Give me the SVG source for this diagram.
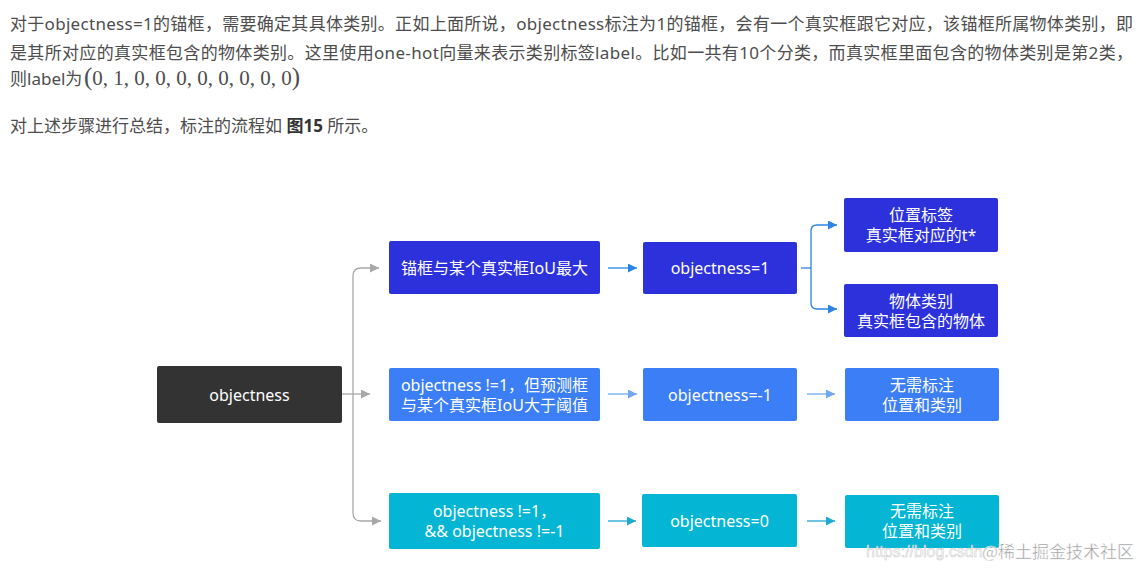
<svg xmlns="http://www.w3.org/2000/svg" width="1148" height="568" viewBox="0 0 1148 568">
<style>
.para{font-family:"Noto Sans","Noto Sans CJK SC",sans-serif;font-size:17px;fill:#4d4d4d}
.math{font-family:"Liberation Serif","DejaVu Serif",serif;font-size:21px;fill:#4d4d4d}
.bt{font-family:"Noto Sans","Noto Sans CJK SC",sans-serif;font-size:16px;fill:#ffffff;text-anchor:middle;dominant-baseline:central}
.dark{fill:#333333}
.r1{fill:#2c31dc}
.r2{fill:#3b7ef6}
.r3{fill:#04b6d4}
.gray{fill:none;stroke:#a8a8a8;stroke-width:1.3}
.c1{fill:none;stroke:#2a84e6;stroke-width:1.3}
.c2{fill:none;stroke:#6ea9ef;stroke-width:1.3}
.c3{fill:none;stroke:#1ea8d2;stroke-width:1.3}
</style>
<defs>
<marker id="mg" viewBox="0 0 10 10" refX="10" refY="5" markerWidth="9" markerHeight="9" markerUnits="userSpaceOnUse" orient="auto"><path d="M0,0 L10,5 L0,10 z" fill="#a8a8a8"/></marker>
<marker id="m1" viewBox="0 0 10 10" refX="10" refY="5" markerWidth="9" markerHeight="9" markerUnits="userSpaceOnUse" orient="auto"><path d="M0,0 L10,5 L0,10 z" fill="#2a84e6"/></marker>
<marker id="m2" viewBox="0 0 10 10" refX="10" refY="5" markerWidth="9" markerHeight="9" markerUnits="userSpaceOnUse" orient="auto"><path d="M0,0 L10,5 L0,10 z" fill="#6ea9ef"/></marker>
<marker id="m3" viewBox="0 0 10 10" refX="10" refY="5" markerWidth="9" markerHeight="9" markerUnits="userSpaceOnUse" orient="auto"><path d="M0,0 L10,5 L0,10 z" fill="#1ea8d2"/></marker>
</defs>
<rect x="0" y="0" width="1148" height="568" fill="#ffffff"/>
<g id="paragraph">
<text class="para" x="10" y="30" textLength="1123">对于objectness=1的锚框，需要确定其具体类别。正如上面所说，objectness标注为1的锚框，会有一个真实框跟它对应，该锚框所属物体类别，即</text>
<text class="para" x="10" y="59" textLength="1123">是其所对应的真实框包含的物体类别。这里使用one-hot向量来表示类别标签label。比如一共有10个分类，而真实框里面包含的物体类别是第2类，</text>
<text class="para" x="10" y="85">则label为</text>
<text class="math" x="84" y="85"><tspan font-size="25">(</tspan>0, 1, 0, 0, 0, 0, 0, 0, 0, 0<tspan font-size="25">)</tspan></text>
<text class="para" x="10" y="132">对上述步骤进行总结，标注的流程如 <tspan font-weight="bold" fill="#333">图15</tspan> 所示。</text>
</g>
<g id="connectors">
<path class="gray" d="M342,394 H370" marker-end="url(#mg)"/>
<path class="gray" d="M353,394 V276 Q353,268 361,268 H379" marker-end="url(#mg)"/>
<path class="gray" d="M353,394 V513 Q353,521 361,521 H381" marker-end="url(#mg)"/>
<path class="c1" d="M608,268 H637" marker-end="url(#m1)"/>
<path class="c1" d="M801,268 H811"/>
<path class="c1" d="M811,268 V231 Q811,225 817,225 H837" marker-end="url(#m1)"/>
<path class="c1" d="M811,268 V303 Q811,309 817,309 H837" marker-end="url(#m1)"/>
<path class="c2" d="M608,394 H637" marker-end="url(#m2)"/>
<path class="c2" d="M807,394 H835" marker-end="url(#m2)"/>
<path class="c3" d="M608,521 H636" marker-end="url(#m3)"/>
<path class="c3" d="M807,521 H835" marker-end="url(#m3)"/>
</g>
<g id="n-objectness">
<rect class="dark" x="157" y="366" width="185" height="57" rx="2"/>
<text class="bt" x="249.5" y="394.5">objectness</text>
</g>
<g id="n-iou-max">
<rect class="r1" x="389" y="241" width="211" height="53" rx="2"/>
<text class="bt" x="494.5" y="267.5">锚框与某个真实框IoU最大</text>
</g>
<g id="n-obj1">
<rect class="r1" x="643" y="242" width="154" height="52" rx="2"/>
<text class="bt" x="720" y="268">objectness=1</text>
</g>
<g id="n-pos-label">
<rect class="r1" x="844" y="198" width="154" height="54" rx="2"/>
<text class="bt" x="921" y="215">位置标签</text>
<text class="bt" x="921" y="235">真实框对应的t*</text>
</g>
<g id="n-class-label">
<rect class="r1" x="844" y="284" width="154" height="53" rx="2"/>
<text class="bt" x="921" y="300.5">物体类别</text>
<text class="bt" x="921" y="320.5">真实框包含的物体</text>
</g>
<g id="n-iou-thresh">
<rect class="r2" x="389" y="368" width="211" height="53" rx="2"/>
<text class="bt" x="494.5" y="385">objectness !=1，但预测框</text>
<text class="bt" x="494.5" y="405">与某个真实框IoU大于阈值</text>
</g>
<g id="n-obj-neg1">
<rect class="r2" x="643" y="368" width="154" height="53" rx="2"/>
<text class="bt" x="720" y="394.5">objectness=-1</text>
</g>
<g id="n-none-1">
<rect class="r2" x="845" y="368" width="154" height="53" rx="2"/>
<text class="bt" x="922" y="384.5">无需标注</text>
<text class="bt" x="922" y="404.5">位置和类别</text>
</g>
<g id="n-other">
<rect class="r3" x="389" y="493" width="211" height="56" rx="2"/>
<text class="bt" x="494.5" y="510.5">objectness !=1，</text>
<text class="bt" x="494.5" y="530.5">&amp;&amp; objectness !=-1</text>
</g>
<g id="n-obj0">
<rect class="r3" x="642" y="494" width="155" height="53" rx="2"/>
<text class="bt" x="719.5" y="520.5">objectness=0</text>
</g>
<g id="n-none-2">
<rect class="r3" x="845" y="495" width="154" height="53" rx="2"/>
<text class="bt" x="922" y="511">无需标注</text>
<text class="bt" x="922" y="531">位置和类别</text>
</g>
<g id="watermark">
<text x="866" y="557" font-family="Liberation Sans, sans-serif" font-size="16" fill="#ffffff" fill-opacity="0.85" stroke="#c8c8c8" stroke-width="0.5">https://blog.csdn</text>
<text x="982" y="558" font-family="Noto Sans CJK SC, sans-serif" font-size="17" fill="#9a9a9a" stroke="#ffffff" stroke-width="0.4">@稀土掘金技术社区</text>
</g>
</svg>
